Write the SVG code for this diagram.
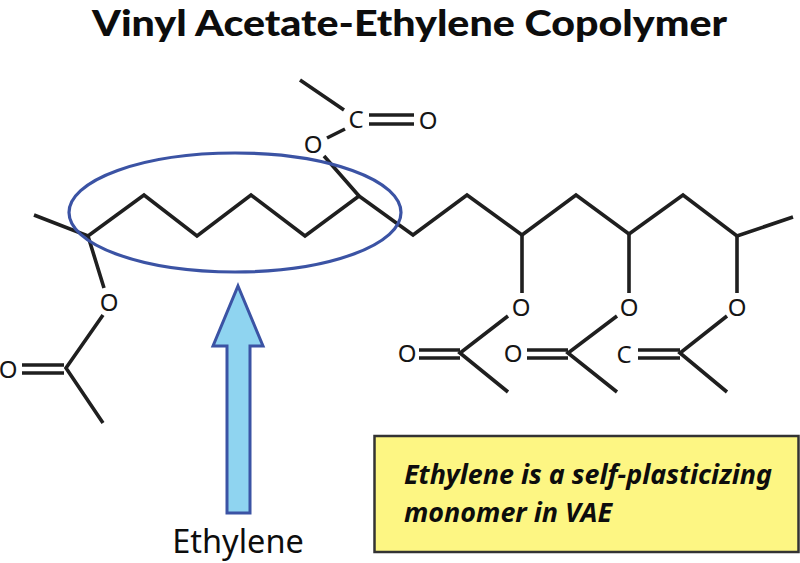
<svg xmlns="http://www.w3.org/2000/svg" width="800" height="563" viewBox="0 0 800 563">
<style>
.b{fill:none;stroke:#1f1f1f;stroke-width:3.600;stroke-linejoin:miter}
.a{font-family:"Noto Sans","Open Sans",sans-serif;fill:#151515;font-size:24px;text-anchor:middle}
.t{font-family:"Noto Sans","Open Sans",sans-serif;fill:#0d0d0d}
.h{font-family:Lato,"Noto Sans",sans-serif;fill:#0d0d0d}
</style>
<rect width="800" height="563" fill="#fff"/>
<g id="title"><text class="h" x="92" y="36" font-size="36" font-weight="900" textLength="635" lengthAdjust="spacingAndGlyphs">Vinyl Acetate-Ethylene Copolymer</text></g>
<g id="connectors">
<path class="b" d="M34 215L88 236L144 195L197 236L251 195L305 236L359 196L413 235L467 195L522 235L576 195L629 234L683 195L737 236L793 217"/>
<path class="b" d="M88 236L104 288M103 315L66 368L103 423M22 365H64M22 373H64"/>
<path class="b" d="M359 196L324 156M327 138L345 129M300 80L344 110M369 115H414M369 124H414"/>
<path class="b" d="M522 235V293M508 316L460 353L508 392M419 350H460M419 358H460"/>
<path class="b" d="M629 234V293M617 316L568 353L617 392M527 350H568M527 358H568"/>
<path class="b" d="M737 236V293M727 316L680 353L727 392M638 350H680M638 358H680"/>
</g>
<g id="atoms">
<text class="a" x="8" y="378">O</text>
<text class="a" x="109" y="311">O</text>
<text class="a" x="313" y="153">O</text>
<text class="a" x="356" y="128">C</text>
<text class="a" x="428" y="129">O</text>
<text class="a" x="521" y="316">O</text>
<text class="a" x="407" y="362">O</text>
<text class="a" x="629" y="316">O</text>
<text class="a" x="513" y="362">O</text>
<text class="a" x="737" y="316">O</text>
<text class="a" x="624" y="363">C</text>
</g>
<g id="ellipse"><ellipse cx="235" cy="212.500" rx="166" ry="59.500" fill="none" stroke="#3b53a4" stroke-width="3.200"/></g>
<g id="arrow"><path d="M238 286L263 346H250V513H227V346H213Z" fill="#8fd4f0" stroke="#3b53a4" stroke-width="3"/>
<text class="t" x="238" y="553" font-size="32.500" text-anchor="middle">Ethylene</text></g>
<g id="note"><rect x="374.500" y="436" width="424" height="116" fill="#fdf683" stroke="#333" stroke-width="2.500"/>
<text class="t" x="404" y="484" font-size="26.900" font-weight="700" font-style="italic">Ethylene is a self-plasticizing</text>
<text class="t" x="404" y="522" font-size="26.900" font-weight="700" font-style="italic">monomer in VAE</text></g>
</svg>
